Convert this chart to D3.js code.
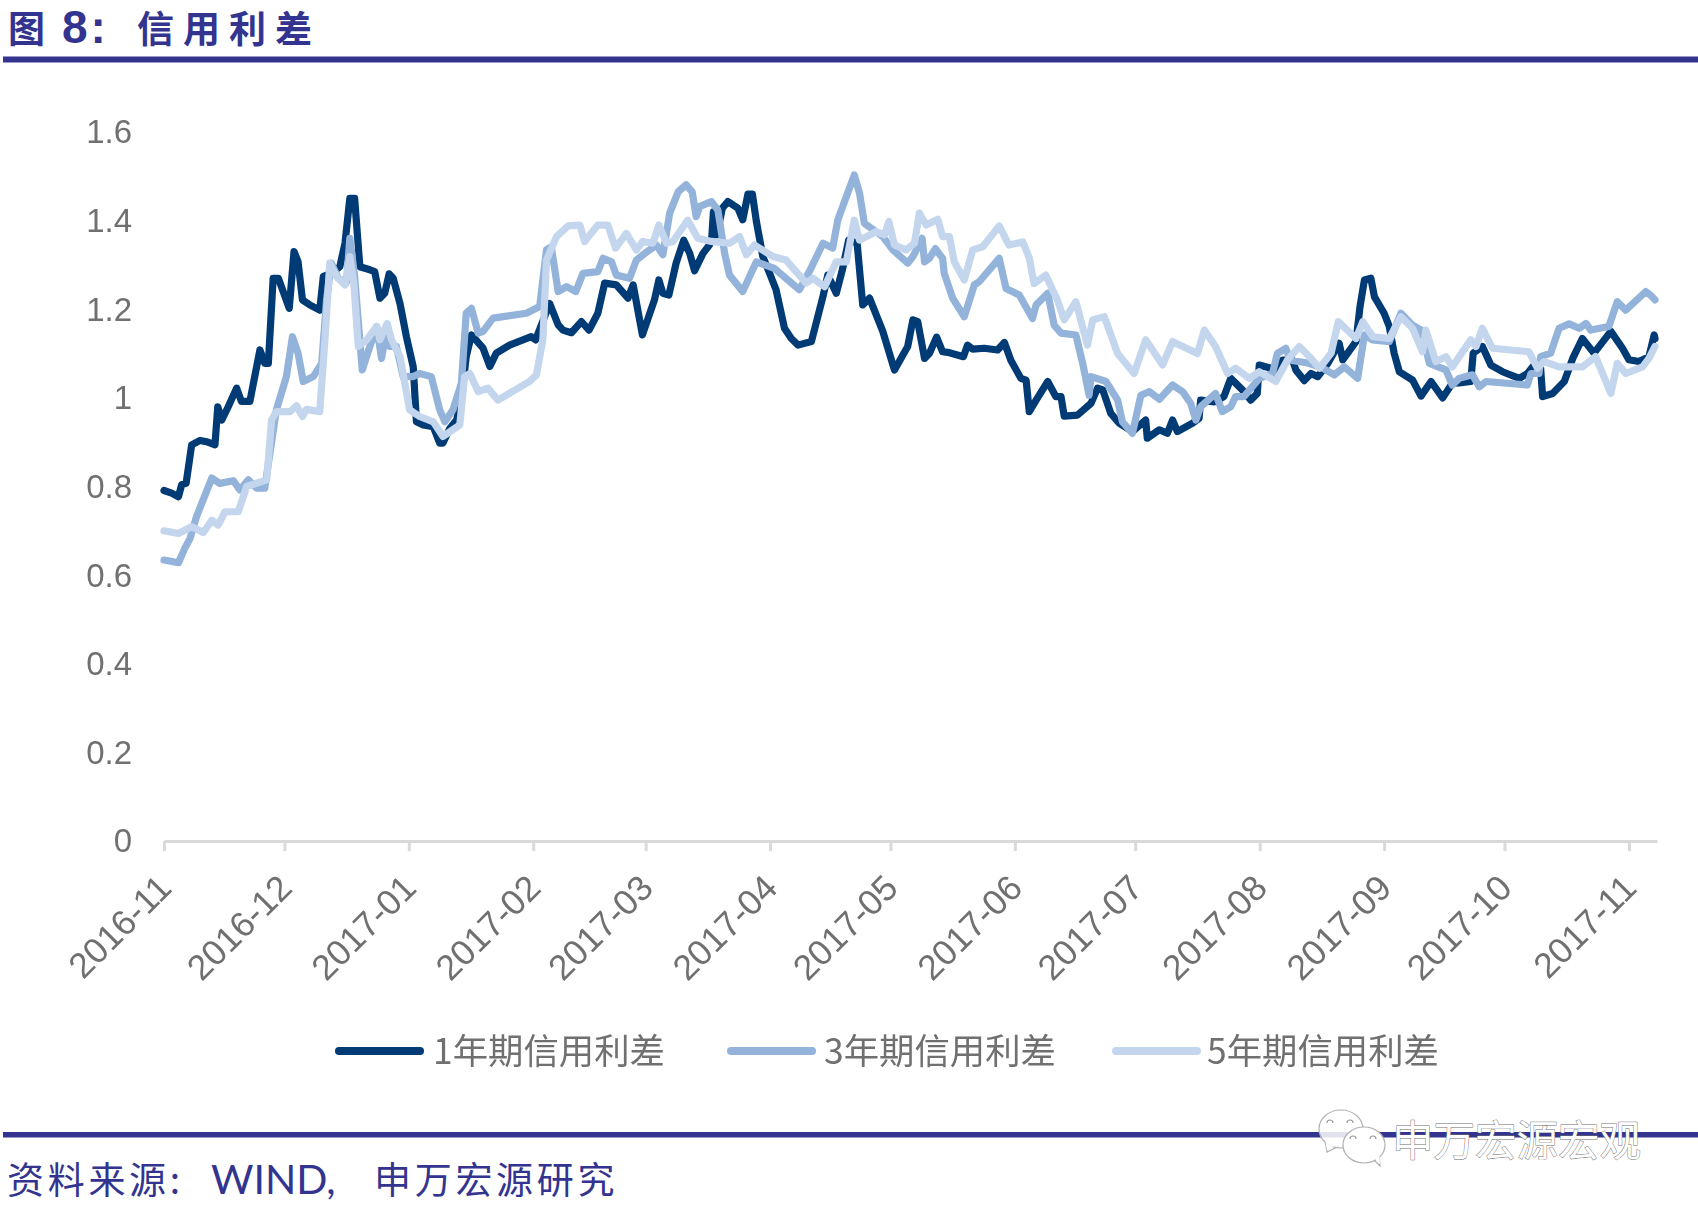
<!DOCTYPE html>
<html><head><meta charset="utf-8">
<script src="https://d3js.org/d3.v7.min.js"></script>
<style>html,body{margin:0;padding:0;background:#fff}svg{display:block}</style>
</head><body><svg id="c" width="1698" height="1214"></svg>
<script>
const monthLabels = ["2016-11","2016-12","2017-01","2017-02","2017-03","2017-04","2017-05","2017-06","2017-07","2017-08","2017-09","2017-10","2017-11"];
const yTickValues = [0,0.2,0.4,0.6,0.8,1,1.2,1.4,1.6];
const yTickLabels = ["0","0.2","0.4","0.6","0.8","1","1.2","1.4","1.6"];
const seriesNames = ["1年期信用利差","3年期信用利差","5年期信用利差"];
const seriesColors = ["#043a75","#93b3da","#c3d6ee"];

// day offsets from 2016-11-01
const days1 = [0,1.9,3.6,4.4,5.5,6.9,9,10.6,12.7,13.4,14.4,16,18.1,19.3,21.4,23.9,25.1,26,27.2,28.5,31.2,32.4,33.4,34.5,36.3,38.8,39.7,41.7,43.8,45.1,46.3,47.5,48.8,51.3,52.5,53.8,55,56.1,57.1,58.8,60.4,62.1,62.9,64.6,67.1,68.7,69.5,71.2,72.9,74.1,75.3,76.6,79.5,81.2,82.8,86.1,91.5,92.6,96.1,98.2,99.4,101.5,104,105.9,108.1,109.8,112.7,115.6,116.9,119.2,122.2,123.3,124.3,125.8,127.6,129.5,131,132.2,134.3,135.9,136.5,136.9,137.8,139.1,140.5,143,144.2,145.5,146.6,147.6,148.6,149.2,150.9,152.5,154.6,156.3,158,161.3,164.2,165.4,167.5,169.1,170.6,172.7,174.1,175.8,179.1,182,185.3,186.6,187.8,189.5,190.7,192.5,194,195.7,199.2,200.2,201.5,204.4,207.7,209.4,211,213.5,214.8,215.6,217.3,220.2,222.2,223.5,224.3,227.6,231,232.6,233.9,235.9,238,241.3,244.6,245,248,250,251.3,252.5,256.3,257.9,258.3,261.7,264.1,265.8,268.7,270.8,272.4,272.9,275.8,277,278.7,281.2,282,284.1,285.8,287.5,290,292.8,293.7,297,298,299.1,300.7,301.6,304,305.3,306.5,307.8,311.1,313.2,315.7,318.6,321,322.7,325.6,326.2,328.5,330.6,333.5,337.7,339.7,341.4,343,343.5,346,348.9,351,353.4,356.3,360.5,363.4,365,367.5,370,371.3,371.5];
const values1 = [.791,.785,.777,.804,.807,.894,.904,.901,.894,.98,.95,.98,1.022,.992,.992,1.108,1.078,1.078,1.27,1.27,1.202,1.33,1.307,1.221,1.21,1.198,1.274,1.281,1.296,1.349,1.45,1.45,1.296,1.289,1.285,1.225,1.236,1.28,1.27,1.213,1.138,1.07,.946,.939,.935,.898,.898,.931,.95,.995,1.093,1.142,1.112,1.071,1.101,1.119,1.138,1.131,1.213,1.165,1.153,1.147,1.172,1.153,1.191,1.259,1.255,1.225,1.255,1.142,1.221,1.266,1.236,1.232,1.304,1.356,1.326,1.287,1.326,1.345,1.364,1.42,1.368,1.428,1.443,1.428,1.402,1.46,1.46,1.398,1.349,1.319,1.281,1.244,1.157,1.134,1.119,1.127,1.229,1.277,1.236,1.292,1.356,1.349,1.21,1.225,1.15,1.063,1.116,1.176,1.172,1.089,1.1,1.137,1.104,1.102,1.093,1.119,1.11,1.112,1.108,1.125,1.085,1.044,1.04,.969,.995,1.037,1.003,1.003,.959,.961,.988,1.022,1.018,.965,.943,.924,.95,.909,.928,.92,.95,.924,.943,.954,.995,.991,1.003,1.044,1.018,.995,1.01,1.074,1.067,1.055,1.085,1.085,1.063,1.039,1.055,1.048,1.078,1.123,1.086,1.127,1.206,1.266,1.27,1.228,1.191,1.161,1.101,1.059,1.04,1.004,1.037,1,1.033,1.034,1.037,1.101,1.116,1.074,1.059,1.044,1.055,1.074,1.067,1.003,1.01,1.037,1.089,1.134,1.101,1.15,1.112,1.086,1.082,1.093,1.142,1.134];

const days3 = [0,3.6,5.2,6.5,8.1,11.9,13.9,17.3,18.9,21,23.1,25.1,28,30.5,32,33.4,34.7,37.2,39.3,40.5,41.7,43.4,45.5,46.3,47.5,49.4,51.3,53,54.2,55.6,56.3,57.9,59.6,62.1,63.7,66.6,68.7,70,72,74.1,75.3,76.6,78.3,79.5,82,90.3,93.6,95.3,96.5,98.2,100.3,102.6,104.4,108.1,109.4,111.5,112.7,116,117.7,119.8,122.7,124.3,126,128.1,130.1,131.6,132.6,133.5,136.4,138,139.7,140.9,144.2,147.6,152.1,158.3,160.8,164.2,166.6,167.9,172,173.3,174.5,179.1,181.6,185.3,186.6,188.9,189.5,190.7,192.2,194,194.4,196.5,199.4,201.9,203.1,208.1,209.8,213.1,216.4,217.3,220.2,221.8,223.5,227.2,228.9,230.5,231,234.7,237.6,238.8,241.3,243.4,245.5,248,251.3,253.8,255.8,257.1,258.3,262,263.7,265.8,267,269.1,272.9,276.2,277.4,279.5,280.7,285.3,288.7,291.6,294.1,297.4,299.1,301.1,305.3,308.2,311.1,313.2,315.3,319.4,321,322.7,326,327.7,329.4,339.7,340.6,342.6,343,345.5,347.6,350.1,352.6,354.3,355.5,360,362.1,364.2,369.2,370.4,371.5];
const values3 = [.634,.628,.661,.683,.732,.819,.807,.813,.792,.815,.796,.796,.973,1.048,1.138,1.101,1.037,1.048,1.078,1.221,1.304,1.27,1.262,1.36,1.274,1.063,1.116,1.161,1.089,1.161,1.116,1.116,1.048,1.048,1.055,1.048,.973,.946,.973,1.033,1.191,1.202,1.146,1.15,1.18,1.191,1.206,1.334,1.341,1.24,1.251,1.24,1.281,1.285,1.315,1.307,1.277,1.27,1.311,1.326,1.345,1.323,1.417,1.465,1.481,1.465,1.409,1.432,1.443,1.424,1.326,1.277,1.24,1.307,1.292,1.244,1.285,1.349,1.338,1.402,1.503,1.462,1.394,1.364,1.334,1.304,1.319,1.36,1.307,1.315,1.337,1.315,1.281,1.225,1.183,1.255,1.262,1.315,1.247,1.232,1.179,1.21,1.236,1.164,1.146,1.142,1.078,1.006,1.048,1.037,.995,.946,.92,1.006,1.014,.997,1.029,1.014,.988,.95,.98,1.01,.969,.98,1.003,1.003,1.044,1.055,1.1,1.112,1.085,1.078,1.067,1.052,1.07,1.044,1.142,1.131,1.127,1.191,1.164,1.153,1.078,1.063,1.029,1.044,1.052,1.025,1.037,1.029,1.055,1.055,1.093,1.101,1.157,1.167,1.157,1.168,1.153,1.161,1.217,1.198,1.24,1.232,1.221];

const days5 = [0,3.6,6.9,9.8,11.9,13.5,15.2,18.5,20.6,25.6,26.8,28,31.4,33,34.5,35.5,38.8,40.1,41.3,43,45.1,46.3,47.3,48.4,50.5,53,53.8,55.6,56.7,58.8,61.2,63.7,67.1,69.5,73.7,74.9,76.2,78.3,80.7,83.2,91.1,92.8,94.4,95.3,97.8,100.7,103.6,104.8,108.1,110.6,112.5,115.2,117.7,119.3,121.8,123.3,125.2,126.8,130.5,133,136.4,140.9,143.4,145.1,147.1,151.7,155,160,161.7,164.6,167.5,170,172,173.3,175,177.4,179.5,180.6,182,184.9,187,188.2,189.9,192.8,194,195.7,196.9,199.4,201.5,204,208.1,210.5,214,215.6,216.8,219.7,222.6,224.3,227.2,230.1,231.4,234.3,237.6,241.7,244.6,248.8,251.3,257.5,259.2,262,265,267,270.4,272.9,277,279.9,282.9,285.4,287.9,290.8,292.6,297,298.7,301.2,305.3,308.2,311.1,313.6,314.4,316.9,319.4,321,325.6,326.9,328.5,331,340.1,342.2,343.9,347.6,353.4,356.7,360.5,362.1,364.2,368.4,370,371.5];
const values5 = [.7,.694,.709,.696,.724,.713,.743,.743,.8,.815,.95,.969,.969,.982,.958,.974,.969,1.131,1.304,1.274,1.255,1.319,1.259,1.116,1.131,1.161,1.131,1.168,1.131,1.093,.973,.958,.946,.913,.939,1.048,1.055,1.014,1.022,.995,1.037,1.052,1.131,1.311,1.364,1.388,1.39,1.353,1.39,1.39,1.338,1.371,1.334,1.353,1.349,1.39,1.349,1.353,1.401,1.36,1.353,1.349,1.364,1.323,1.345,1.319,1.311,1.259,1.27,1.251,1.307,1.307,1.401,1.356,1.364,1.375,1.368,1.398,1.345,1.334,1.349,1.417,1.39,1.403,1.364,1.364,1.307,1.266,1.334,1.341,1.388,1.345,1.352,1.315,1.258,1.277,1.221,1.176,1.217,1.119,1.176,1.183,1.1,1.055,1.131,1.074,1.127,1.1,1.153,1.116,1.055,1.067,1.044,1.059,1.037,1.085,1.116,1.093,1.067,1.101,1.172,1.134,1.172,1.138,1.134,1.183,1.157,1.104,1.153,1.082,1.093,1.07,1.131,1.116,1.157,1.112,1.104,1.067,1.082,1.07,1.07,1.093,1.01,1.078,1.055,1.07,1.089,1.116];

const titleColor = "#33348f", labelColor = "#707070", axisColor = "#d9d9d9";
const sansFont = "'Liberation Sans',Arial,sans-serif";
const cjkFont = "'Noto Sans CJK SC','Noto Sans',sans-serif";

const svg = d3.select("#c");
const defs = svg.append("defs");
defs.append("filter").attr("id","soft").attr("x","-5%").attr("y","-5%").attr("width","110%").attr("height","110%")
  .append("feGaussianBlur").attr("stdDeviation",0.55);
const start = Date.UTC(2016,10,1);
const dayMs = 864e5;
const x = d3.scaleUtc().domain([new Date(start), new Date(Date.UTC(2017,10,8))]).range([164,1657]);
const y = d3.scaleLinear().domain([0,1.6]).range([841,132]);
const parseMonth = d3.utcParse("%Y-%m");

// header / footer rules
svg.append("rect").attr("x",3).attr("y",56.5).attr("width",1695).attr("height",6).attr("fill",titleColor);
svg.append("rect").attr("x",3).attr("y",1132).attr("width",1695).attr("height",5.5).attr("fill",titleColor);

// title
const title = svg.append("text").attr("y",43).attr("fill",titleColor).attr("font-family",cjkFont).attr("font-weight",700).attr("font-size",37);
title.append("tspan").attr("x",8).text("图");
title.append("tspan").attr("x",62).attr("font-family",sansFont).attr("font-size",46).attr("letter-spacing",3).text("8:");
title.append("tspan").attr("x",137).attr("letter-spacing",9).text("信用利差");

// footer
const foot = svg.append("text").attr("y",1194).attr("fill",titleColor).attr("font-family",cjkFont).attr("font-size",37);
foot.append("tspan").attr("x",7).attr("letter-spacing",3.7).text("资料来源:");
foot.append("tspan").attr("x",211).attr("font-family","Lato,'Liberation Sans',sans-serif").attr("font-size",41).text("WIND,");
foot.append("tspan").attr("x",374).attr("letter-spacing",3.7).text("申万宏源研究");

const chart = svg.append("g").attr("filter","url(#soft)");

// axes
const xAxis = d3.axisBottom(x).tickValues(monthLabels.map(parseMonth)).tickFormat(d3.utcFormat("%Y-%m")).tickSize(10).tickSizeOuter(0);
const gx = chart.append("g").attr("transform","translate(0,841)").call(xAxis);
gx.select(".domain").attr("stroke",axisColor).attr("stroke-width",3);
gx.selectAll(".tick line").attr("stroke",axisColor).attr("stroke-width",3);
gx.selectAll(".tick text").attr("font-family",sansFont).attr("font-size",35.5).attr("fill",labelColor)
  .attr("text-anchor","end").attr("x",0).attr("y",0).attr("dy",0)
  .attr("transform","translate(9,49) rotate(-45)");

const yAxis = d3.axisLeft(y).tickValues(yTickValues).tickFormat((d,i)=>yTickLabels[i]).tickSize(0);
const gy = chart.append("g").attr("transform","translate(132,0)").call(yAxis);
gy.select(".domain").remove();
gy.selectAll(".tick text").attr("font-family",sansFont).attr("font-size",33).attr("fill",labelColor).attr("x",0).attr("dy","0.33em");

// lines
const line = d3.line().x(d=>x(new Date(start+d[0]*dayMs))).y(d=>y(d[1])).curve(d3.curveLinear);
const allDays = [days1,days3,days5], allValues = [values1,values3,values5];
allDays.forEach((ds,i)=>{
  chart.append("path").datum(d3.zip(ds,allValues[i])).attr("d",line)
    .attr("fill","none").attr("stroke",seriesColors[i]).attr("stroke-width",7.2)
    .attr("stroke-linejoin","round").attr("stroke-linecap","round");
});

// legend
const legendX = d3.scaleOrdinal().domain(seriesNames).range([336,728,1113]);
const legend = chart.append("g").selectAll("g").data(seriesNames).join("g")
  .attr("transform",d=>`translate(${legendX(d)},1051)`);
legend.append("line").attr("x1",3).attr("x2",84).attr("stroke-width",8).attr("stroke-linecap","round")
  .attr("stroke",(d,i)=>seriesColors[i]);
legend.append("text").attr("x",(d,i)=>[97,96,94][i]).attr("y",13).attr("font-family",cjkFont).attr("font-size",35.4).attr("fill",labelColor).text(d=>d);

// watermark
const wm = svg.append("g");
function bubble(cx,cy,rx,ry,tail,op){
  const g = wm.append("g").attr("fill",`rgba(255,255,255,${op})`).attr("stroke","#b0b0b0").attr("stroke-width",1.2);
  g.append("path").attr("d",tail);
  g.append("ellipse").attr("cx",cx).attr("cy",cy).attr("rx",rx).attr("ry",ry);
  g.append("path").attr("d",tail).attr("stroke","none").attr("transform","translate(0,-2)");
  [-11,9].forEach(o=>wm.append("path").attr("d",`M${cx+o-3} ${cy-6}a3 3 0 0 1 6 0`).attr("fill","none").attr("stroke","#999").attr("stroke-width",1.2));
}
bubble(1341,1129,22,19,"M1325 1141 l2 11 l12 -6 z",0.86);
bubble(1364,1145,21,18,"M1372 1158 l8 8 l-1 -12 z",1);
svg.append("text").attr("x",1392).attr("y",1156).attr("font-family",cjkFont).attr("font-size",41.5)
  .attr("fill","#fff").attr("stroke","#6e6e6e").attr("stroke-width",0.9).attr("paint-order","stroke").text("申万宏源宏观");
</script></body></html>
